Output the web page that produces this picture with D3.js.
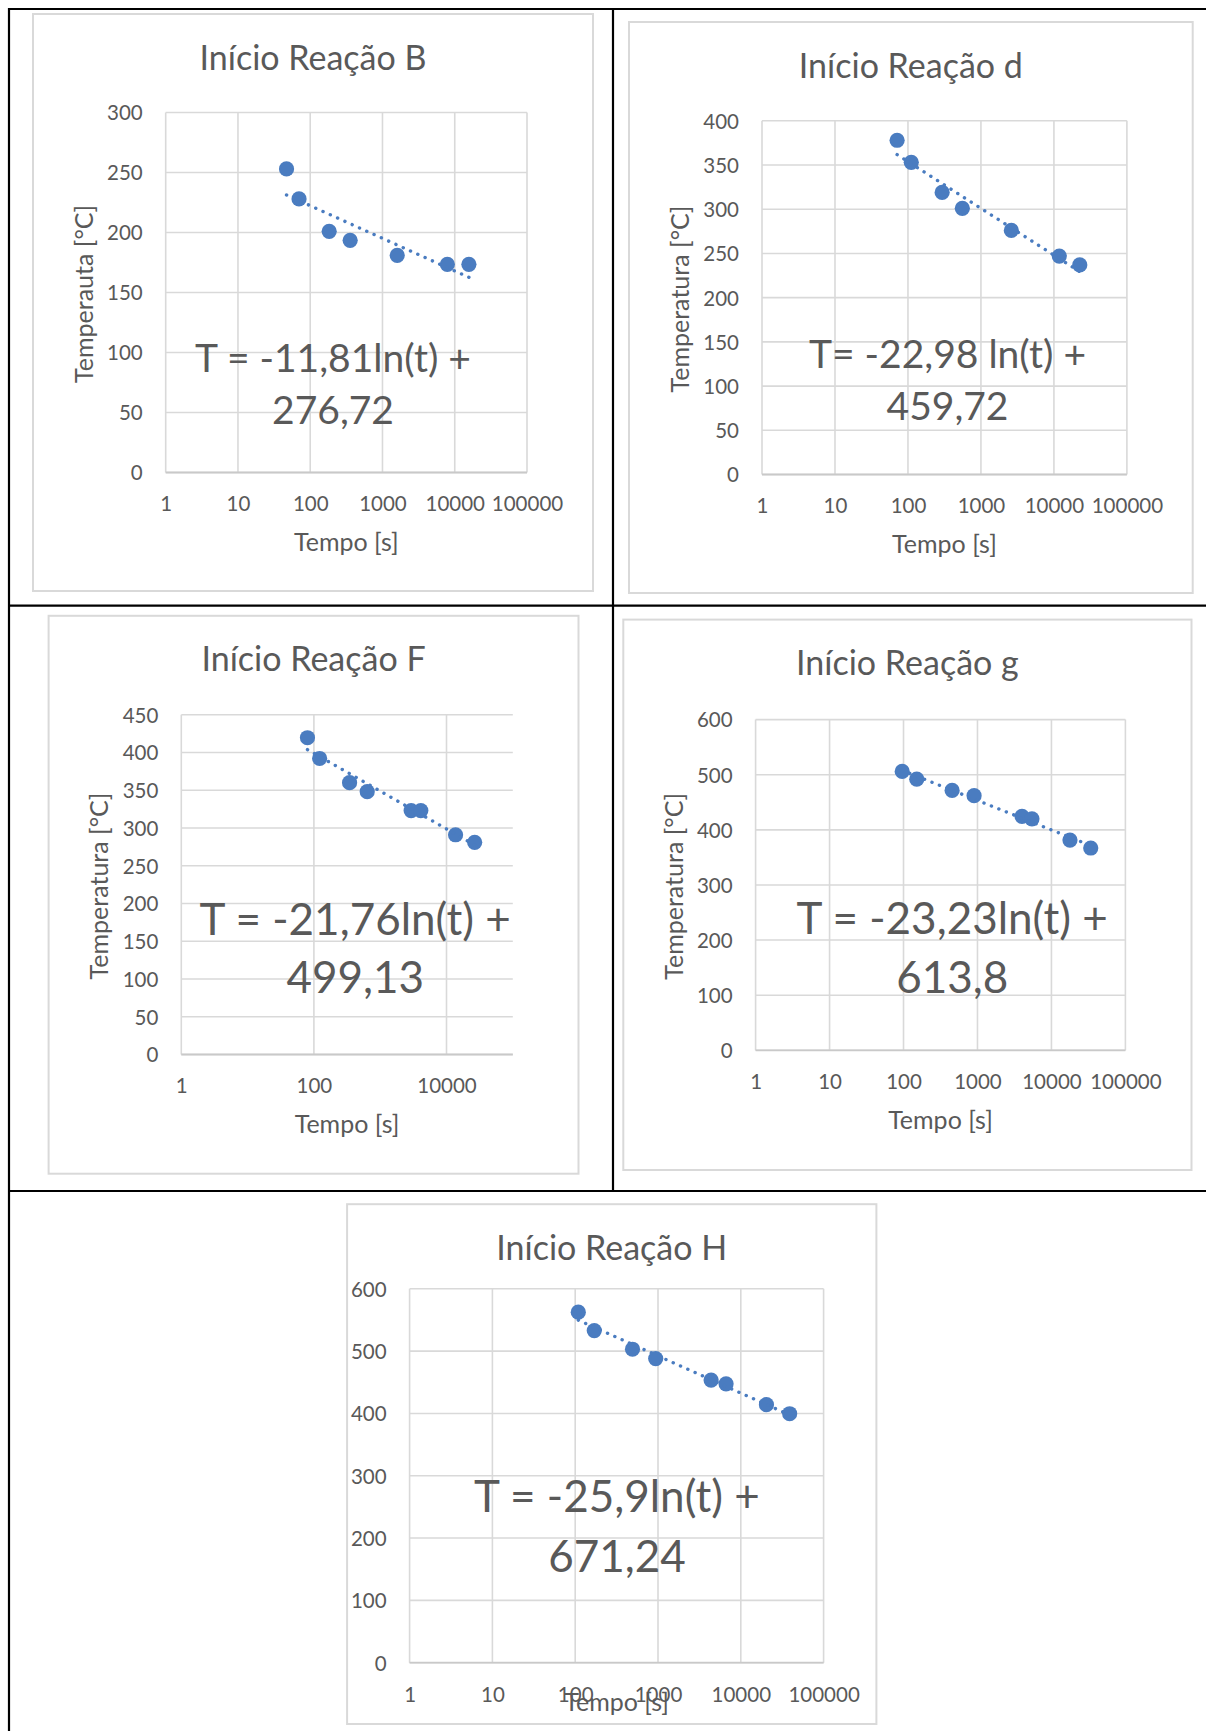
<!DOCTYPE html>
<html>
<head>
<meta charset="utf-8">
<script src="https://cdn.jsdelivr.net/npm/d3@7"></script>
<style>
  html, body { margin: 0; padding: 0; background: #fff; }
  svg { display: block; }
  text { font-family: Lato, "Open Sans", sans-serif; fill: #595959; }
</style>
</head>
<body>
<svg id="chart" width="1206" height="1731"></svg>
<script>
// Start-of-reaction temperature versus time, one log-x scatter per reaction,
// each with its logarithmic trend line T = a·ln(t) + b.

const titles = ["Início Reação B", "Início Reação d", "Início Reação F", "Início Reação g", "Início Reação H"];
const yTitles = ["Temperauta [°C]", "Temperatura [°C]", "Temperatura [°C]", "Temperatura [°C]", ""];
const xTitle = "Tempo [s]";

// Reaction B
const timeB = [47, 70, 183, 357, 1600, 7900, 15700];
const tempB = [253, 228, 201, 193.5, 181, 173.5, 173.5];
const fitB = [-11.81, 276.72];
const eqB = ["T = -11,81ln(t) +", "276,72"];
const yTicksB = [0, 50, 100, 150, 200, 250, 300];

// Reaction d
const timeD = [71, 111, 294, 556, 2610, 11850, 22600];
const tempD = [378, 353, 319, 301, 276, 247, 237];
const fitD = [-22.98, 459.72];
const eqD = ["T= -22,98 ln(t) +", "459,72"];
const yTicksD = [0, 50, 100, 150, 200, 250, 300, 350, 400];

// Reaction F
const timeF = [80, 122, 345, 637, 2930, 4100, 13700, 26600];
const tempF = [419.5, 392, 360, 348, 323, 323, 291, 281];
const fitF = [-21.76, 499.13];
const eqF = ["T = -21,76ln(t) +", "499,13"];
const yTicksF = [0, 50, 100, 150, 200, 250, 300, 350, 400, 450];

// Reaction g
const timeG = [96, 151, 454, 900, 4000, 5450, 17800, 34000];
const tempG = [506, 492, 471.5, 462, 424.5, 420, 381.5, 367];
const fitG = [-23.23, 613.8];
const eqG = ["T = -23,23ln(t) +", "613,8"];
const yTicksG = [0, 100, 200, 300, 400, 500, 600];

// Reaction H
const timeH = [109, 170, 492, 938, 4380, 6640, 20400, 38900];
const tempH = [562.5, 533, 503, 488, 453.5, 447.5, 414, 399.5];
const fitH = [-25.9, 671.24];
const eqH = ["T = -25,9ln(t) +", "671,24"];
const yTicksH = [0, 100, 200, 300, 400, 500, 600];

const xTicksDecades = [1, 10, 100, 1000, 10000, 100000];
const xTicksEven = [1, 100, 10000];
const xMax = 100000;

const blue = "#4a7cc0";
const grid = "#d9d9d9";

// panel geometry (page pixels)
const panels = [
  { time: timeB, temp: tempB, fit: fitB, eq: eqB, yTicks: yTicksB, xTicks: xTicksDecades,
    frame: [33, 14, 593, 591], plot: [165.7, 112.5, 527, 472.5], eqX: 333, eqY: 372.3, eqSize: 39, eqGap: 52 },
  { time: timeD, temp: tempD, fit: fitD, eq: eqD, yTicks: yTicksD, xTicks: xTicksDecades,
    frame: [629, 22, 1192.7, 593], plot: [762, 120.8, 1126.9, 474.5], eqX: 947.5, eqY: 368.4, eqSize: 39, eqGap: 51.4 },
  { time: timeF, temp: tempF, fit: fitF, eq: eqF, yTicks: yTicksF, xTicks: xTicksEven,
    frame: [48.6, 615.8, 578.5, 1173.7], plot: [181.3, 714.7, 512.8, 1054.5], eqX: 355.2, eqY: 934.8, eqSize: 44, eqGap: 58.2 },
  { time: timeG, temp: tempG, fit: fitG, eq: eqG, yTicks: yTicksG, xTicks: xTicksDecades,
    frame: [623.3, 619.6, 1191.5, 1170], plot: [755.6, 719.6, 1125.4, 1050.3], eqX: 952.2, eqY: 934, eqSize: 44, eqGap: 59 },
  { time: timeH, temp: tempH, fit: fitH, eq: eqH, yTicks: yTicksH, xTicks: xTicksDecades,
    frame: [347.1, 1204.2, 876.4, 1724], plot: [409.6, 1288.8, 823.6, 1662.7], eqX: 617, eqY: 1512.3, eqSize: 44, eqGap: 59.2,
    xTitleBase: 48 }
];

const svg = d3.select("#chart");

// table rules around and between the panels
const rules = [
  [8, 9, 1206, 9], [9, 8, 9, 1731],
  [9, 605.7, 1206, 605.7], [9, 1191, 1206, 1191],
  [613, 9, 613, 1191]
];
svg.append("g").selectAll("line").data(rules).join("line")
  .attr("x1", d => d[0]).attr("y1", d => d[1]).attr("x2", d => d[2]).attr("y2", d => d[3])
  .attr("stroke", "#000").attr("stroke-width", 2.2);

panels.forEach((p, i) => {
  const g = svg.append("g");
  const [fx0, fy0, fx1, fy1] = p.frame;
  const [px0, py0, px1, py1] = p.plot;

  g.append("rect")
    .attr("x", fx0).attr("y", fy0).attr("width", fx1 - fx0).attr("height", fy1 - fy0)
    .attr("fill", "#fff").attr("stroke", grid).attr("stroke-width", 2);

  const x = d3.scaleLog().domain([1, xMax]).range([px0, px1]);
  const y = d3.scaleLinear().domain([0, d3.max(p.yTicks)]).range([py1, py0]);

  // gridlines
  g.append("g").selectAll("line").data(p.yTicks).join("line")
    .attr("x1", px0).attr("x2", px1).attr("y1", d => y(d)).attr("y2", d => y(d))
    .attr("stroke", grid).attr("stroke-width", 1.6);
  g.append("g").selectAll("line").data(p.xTicks).join("line")
    .attr("x1", d => x(d)).attr("x2", d => x(d)).attr("y1", py0).attr("y2", py1)
    .attr("stroke", grid).attr("stroke-width", 1.6);
  // horizontal axis line
  g.append("line").attr("x1", px0).attr("x2", px1).attr("y1", y(0)).attr("y2", y(0))
    .attr("stroke", "#c9c9c9").attr("stroke-width", 1.8);

  // axes (labels only)
  const yAxis = g.append("g").attr("transform", `translate(${px0},0)`)
    .call(d3.axisLeft(y).tickValues(p.yTicks).tickSize(0).tickPadding(23).tickFormat(d3.format("d")));
  const xAxis = g.append("g").attr("transform", `translate(0,${py1})`)
    .call(d3.axisBottom(x).tickValues(p.xTicks).tickSize(0).tickPadding(0).tickFormat(d3.format("d")));
  [yAxis, xAxis].forEach(a => {
    a.select(".domain").remove();
    a.attr("font-family", null).attr("font-size", null);
    a.selectAll("text").attr("fill", "#595959").style("font-size", "20.5px");
  });
  yAxis.selectAll("text").attr("dy", "0.36em");
  xAxis.selectAll("text").attr("y", 38.9).attr("dy", null);

  // title
  g.append("text").attr("x", (fx0 + fx1) / 2).attr("y", fy0 + 55.5)
    .attr("text-anchor", "middle").style("font-size", "34px").text(titles[i]);

  // axis titles
  if (yTitles[i]) {
    g.append("text")
      .attr("transform", `translate(${px0 - 73},${(py0 + py1) / 2 + 1.4}) rotate(-90)`)
      .attr("text-anchor", "middle").style("font-size", "25px").text(yTitles[i]);
  }
  g.append("text").attr("x", (px0 + px1) / 2).attr("y", py1 + (p.xTitleBase || 78.7))
    .attr("text-anchor", "middle").style("font-size", "25px").text(xTitle);

  // data points
  const pts = p.time.map((t, k) => [t, p.temp[k]]);
  g.append("g").selectAll("circle").data(pts).join("circle")
    .attr("cx", d => x(d[0])).attr("cy", d => y(d[1])).attr("r", 7.6)
    .attr("fill", blue);

  // logarithmic trend line over the measured time span
  const [a, b] = p.fit;
  const span = d3.extent(p.time);
  g.append("path")
    .attr("d", d3.line().x(t => x(t)).y(t => y(a * Math.log(t) + b))(span))
    .attr("fill", "none").attr("stroke", blue).attr("stroke-width", 3.4)
    .attr("stroke-linecap", "round").attr("stroke-dasharray", "0.1 7.9");

  // trend-line equation
  const eq = g.append("text").attr("text-anchor", "middle").style("font-size", p.eqSize + "px");
  p.eq.forEach((line, k) => {
    eq.append("tspan").attr("x", p.eqX).attr("y", p.eqY + k * p.eqGap).text(line);
  });
});
</script>
</body>
</html>
